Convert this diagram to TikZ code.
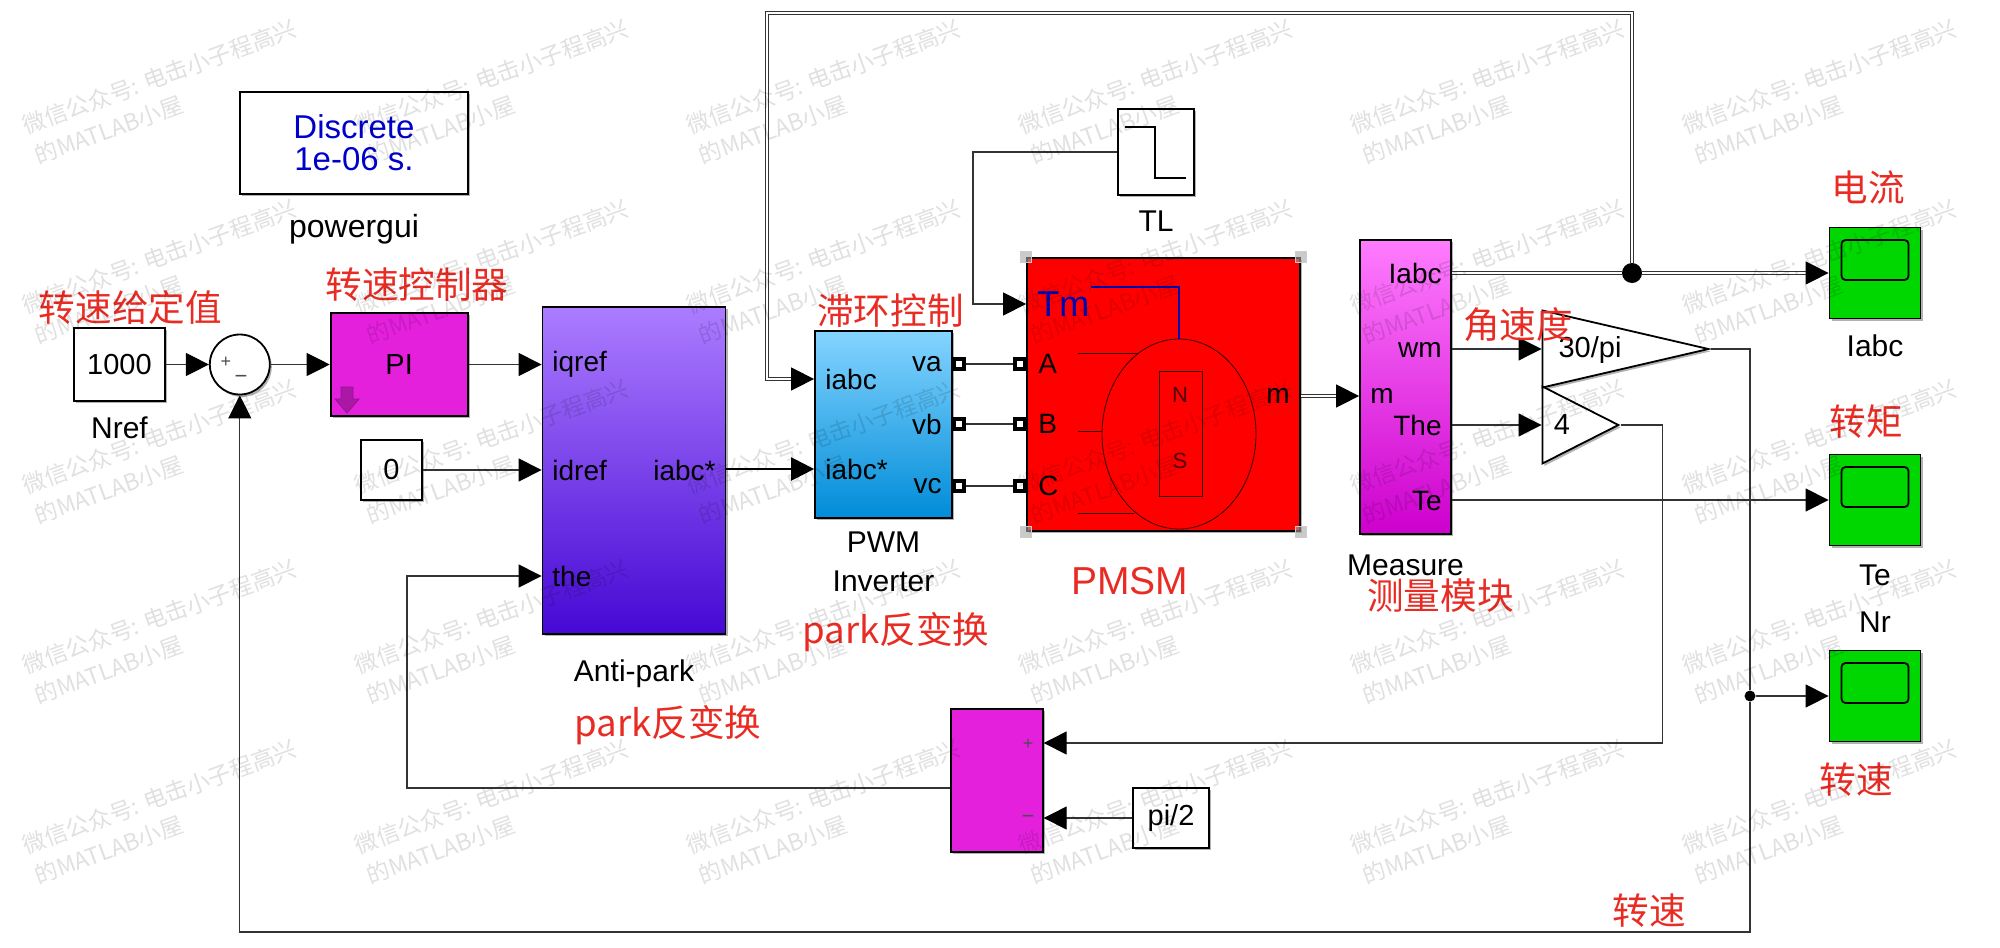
\documentclass[tikz,border=0pt]{standalone}
\usepackage{fontspec}
\setmainfont{Liberation Sans}
\newfontfamily\cjkfont{Noto Sans CJK SC}
\usetikzlibrary{shapes.geometric, arrows.meta, positioning, shadows}

\definecolor{blockred}{RGB}{255,0,0}
\definecolor{blockmag}{RGB}{228,32,220}
\definecolor{scopegreen}{RGB}{0,214,0}
\definecolor{notered}{RGB}{232,44,36}

\begin{document}
\begin{tikzpicture}[
    x=0.5pt, y=-0.5pt,
    tip/.tip       = {Triangle[length=11.5pt, width=11.5pt, color=black, fill=black]},
    block/.style   = {draw=black, line width=0.9pt, inner sep=0pt, font=\fontsize{14.5}{17}\selectfont,
                      drop shadow={shadow xshift=1pt, shadow yshift=-1.2pt, fill=black, opacity=.3}},
    whitebox/.style= {block, fill=white},
    scopebox/.style= {block, fill=scopegreen, minimum width=45.5pt, minimum height=45.5pt},
    screen/.style  = {draw=black, line width=0.9pt, rounded corners=2pt, minimum width=33.5pt, minimum height=20pt, inner sep=0pt},
    gain/.style    = {block, fill=white, isosceles triangle, isosceles triangle stretches,
                      shape border rotate=0, anchor=lower side},
    portlbl/.style = {inner sep=0pt, font=\fontsize{14}{17}\selectfont},
    lbl/.style     = {inner sep=0pt, align=center, font=\fontsize{15}{19.5}\selectfont},
    signlbl/.style = {inner sep=0pt, text=black!70, font=\fontsize{9}{10}\selectfont},
    port/.style    = {draw=black, fill=white, line width=2.2pt, minimum size=5pt, inner sep=0pt},
    handle/.style  = {draw=black!20, fill=black!35, fill opacity=.6, minimum size=5.5pt, inner sep=0pt},
    note/.style    = {inner sep=0pt, text=notered, font=\cjkfont\fontsize{18.3}{22}\selectfont},
    wire/.style    = {black!80, line width=0.55pt},
    arrow/.style   = {wire, -tip},
    bus/.style     = {black!80, line width=0.7pt, double, double distance=0.7pt},
    busarrow/.style= {bus, -tip},
    dot/.style     = {circle, fill=black, inner sep=0pt},
    stamp/.style   = {inner sep=0pt, anchor=south west, rotate=20, text=black, text opacity=.12,
                      font=\cjkfont\fontsize{11.5}{13}\selectfont}
  ]
  \useasboundingbox (0,0) rectangle (2000,947);

  % Solver
  \node[whitebox, minimum width=114pt, minimum height=51pt, align=center,
        text=blue!80!black, font=\fontsize{16.5}{16}\selectfont] (gui) at (354,143) {Discrete\\1e-06 s.};
  \node[lbl, font=\fontsize{16}{19}\selectfont, below=9.5pt of gui] (guilbl) {powergui};

  % Speed loop
  \node[whitebox, minimum width=45.5pt, minimum height=36.5pt] (nref) at (119.5,364.5) {1000};
  \node[lbl, below=7pt of nref] (nreflbl) {Nref};
  \node[whitebox, circle, minimum size=30pt, right=21.5pt of nref] (sum) {};
  \node[signlbl] (sumplus) at (226,362) {+};
  \node[signlbl, font=\fontsize{11}{12}\selectfont] (summinus) at (241,379) {−};
  \node[block, fill=blockmag, minimum width=68.5pt, minimum height=51.5pt, right=29.5pt of sum] (pi) {PI};
  \node[whitebox, minimum width=30.5pt, minimum height=30pt] (zero) at (391.5,470) {0};

  % Anti-park
  \node[block, minimum width=91.5pt, minimum height=163.5pt,
        top color={rgb,255:red,172;green,124;blue,255}, bottom color={rgb,255:red,70;green,8;blue,212}] (anti) at (634,470.5) {};
  \node[lbl, below=12pt of anti] (antilbl) {Anti-park};
  \node[portlbl, anchor=west] (iqref) at (552,364) {iqref};
  \node[portlbl, anchor=west] (idref) at (552,470) {idref};
  \node[portlbl, anchor=west] (the) at (552,576) {the};
  \node[portlbl, anchor=east] (iabcout) at (716,470) {iabc*};

  % Inverter
  \node[block, minimum width=68.5pt, minimum height=93.5pt,
        top color={rgb,255:red,132;green,212;blue,255}, bottom color={rgb,255:red,0;green,140;blue,216}] (pwm) at (883.5,424.5) {};
  \node[lbl, below=6.5pt of pwm] (pwmlbl) {PWM\\Inverter};
  \node[portlbl, anchor=west] (iabc) at (825,379) {iabc};
  \node[portlbl, anchor=west] (iabcs) at (825,469) {iabc*};
  \node[portlbl, anchor=east] (va) at (942,364) {va};
  \node[portlbl, anchor=east] (vb) at (942,424) {vb};
  \node[portlbl, anchor=east] (vc) at (942,486) {vc};
  \node[port] (pva) at (959,364) {};
  \node[port] (pvb) at (959,424) {};
  \node[port] (pvc) at (959,486) {};

  % Motor
  \node[block, fill=blockred, minimum width=136.5pt, minimum height=136.5pt] (pmsm) at (1163.5,394.5) {};
  \foreach \c [count=\i] in {north west, north east, south west, south east}
    \node[handle] (hdl\i) at (pmsm.\c) {};
  \node[draw=black!80!red, line width=0.4pt, ellipse, minimum width=77pt, minimum height=95pt, inner sep=0pt] (rotor) at (1179,434) {};
  \node[draw=black!80!red, line width=0.4pt, minimum width=21.5pt, minimum height=62.5pt, inner sep=0pt] (magnet) at (1180.5,433.5) {};
  \node[portlbl, text=black!70!red, font=\fontsize{11}{13}\selectfont] (north) at (1180,395) {N};
  \node[portlbl, text=black!70!red, font=\fontsize{11}{13}\selectfont] (south) at (1180,461) {S};
  \coordinate (wa) at (1078,353);
  \coordinate (wb) at (1078,431);
  \coordinate (wc) at (1078,513);
  \draw[black!80!red, line width=0.4pt] (wa) -- +(60,0);
  \draw[black!80!red, line width=0.4pt] (wb) -- (rotor.west |- wb);
  \draw[black!80!red, line width=0.4pt] (wc) -- +(56,0);
  \node[portlbl, text=blue!70!black, font=\fontsize{18}{20}\selectfont, anchor=west] (tm) at (1037,304) {Tm};
  \coordinate (bar) at (1091,287);
  \draw[blue!70!black, line width=1.1pt] (bar) -| (rotor.north);
  \node[portlbl, anchor=west] (pha) at (1038,364) {A};
  \node[portlbl, anchor=west] (phb) at (1038,424) {B};
  \node[portlbl, anchor=west] (phc) at (1038,486) {C};
  \node[portlbl, anchor=east] (mout) at (1290,396) {m};
  \node[port] (pa) at (1020,364) {};
  \node[port] (pb) at (1020,424) {};
  \node[port] (pc) at (1020,486) {};

  % Load
  \node[whitebox, minimum width=38pt, minimum height=43pt] (tl) at (1156,152) {};
  \draw[black, line width=0.6pt] (1125,127) -- (1155,127) -- (1155,178) -- (1186,178);
  \node[lbl, below=7.5pt of tl] (tllbl) {TL};

  % Measure
  \node[block, minimum width=45.5pt, minimum height=147pt,
        top color={rgb,255:red,255;green,124;blue,255}, bottom color={rgb,255:red,205;green,0;blue,205}] (meas) at (1405.5,387) {};
  \node[lbl, below=10pt of meas] (measlbl) {Measure};
  \node[portlbl, anchor=east] (iabcm) at (1442,273) {Iabc};
  \node[portlbl, anchor=east] (wm) at (1442,350) {wm};
  \node[portlbl, anchor=west] (mm) at (1370,396) {m};
  \node[portlbl, anchor=east] (thm) at (1442,425) {The};
  \node[portlbl, anchor=east] (tem) at (1442,501) {Te};

  % Gains
  \node[gain, minimum width=38.5pt, minimum height=83pt] (g30) at (1541.5,349) {};
  \node[portlbl, font=\fontsize{14.5}{17}\selectfont] (g30lbl) at (1590,350) {30/pi};
  \node[gain, minimum width=38.5pt, minimum height=38pt] (g4) at (1541.5,425) {};
  \node[portlbl, font=\fontsize{14.5}{17}\selectfont] (g4lbl) at (1562,425) {4};

  % Scopes
  \node[scopebox] (sci) at (1875,273) {};
  \node[screen] (scrI) at (1875,260) {};
  \node[lbl, below=7.5pt of sci] (scilbl) {Iabc};
  \node[scopebox] (sct) at (1875,500) {};
  \node[screen] (scrT) at (1875,487) {};
  \node[lbl, below=9pt of sct] (sctlbl) {Te};
  \node[scopebox] (scn) at (1875,696) {};
  \node[screen] (scrN) at (1875,683) {};
  \node[lbl, above=8.5pt of scn] (scnlbl) {Nr};

  % Angle offset
  \node[block, fill=blockmag, minimum width=45.75pt, minimum height=71.5pt] (dsum) at (997,780.5) {};
  \node[signlbl] (dplus) at (1028,744) {+};
  \node[signlbl, font=\fontsize{11}{12}\selectfont] (dminus) at (1028,819) {−};
  \node[whitebox, minimum width=38pt, minimum height=30pt] (pi2) at (1171,818) {pi/2};

  % Arrows
  \draw[arrow] (nref) -- (sum);
  \draw[arrow] (sum) -- (pi);
  \draw[arrow] (pi) -- (anti.west |- pi);
  \draw[arrow] (zero) -- (anti.west |- zero);
  \draw[-tip, black, line width=1.2pt] (anti.east |- iabcs) -- (pwm.west |- iabcs);
  \draw[wire] (pva) -- (pa);
  \draw[wire] (pvb) -- (pb);
  \draw[wire] (pvc) -- (pc);
  \coordinate (tlbend) at (973,152);
  \draw[arrow] (tl.west) -- (tlbend) |- (pmsm.west |- tm);
  \draw[busarrow] (pmsm.east |- mm) -- (meas.west |- mm);

  % Feedback of currents
  \node[dot, minimum size=10pt] (jct) at (1632,273) {};
  \coordinate (topr) at (1632,13);
  \coordinate (topl) at (767,13);
  \draw[bus] (meas.east |- jct) -- (jct);
  \draw[busarrow] (jct) -- (sci.west);
  \draw[busarrow] (jct) -- (topr) -- (topl) |- (pwm.west |- iabc);

  \draw[arrow] (meas.east |- g30) -- (g30.lower side);
  \draw[arrow] (meas.east |- g4) -- (g4.lower side);
  \draw[arrow] (meas.east |- sct) -- (sct.west);

  % Speed feedback
  \node[dot, minimum size=5.5pt] (jcn) at (1750,696) {};
  \coordinate (spdr) at (1750,932);
  \draw[wire] (g30.apex) -| (jcn);
  \draw[arrow] (jcn) -- (scn.west);
  \draw[arrow] (jcn) -- (spdr) -| (sum.south);

  % Angle feedback
  \coordinate (angr) at (1662.5,743);
  \coordinate (angl) at (407,788);
  \draw[wire] (g4.apex) -| (angr);
  \draw[arrow] (angr) -- (dsum.east |- angr);
  \draw[arrow] (pi2) -- (dsum.east |- pi2);
  \draw[arrow] (dsum.west |- angl) -- (angl) |- (anti.west |- the);

  % Pull-down mark
  \draw[fill=blockmag!75!black, draw=black!35!blockmag, line width=0.4pt]
    (341,387) -- (353,387) -- (353,399) -- (359,399) -- (347,413) -- (335,399) -- (341,399) -- cycle;

  % Notes
  \node[note] (n1) at (130.5,308) {转速给定值};
  \node[note] (n2) at (417,285) {转速控制器};
  \node[note] (n3) at (890.5,311) {滞环控制};
  \node[note] (n4) at (896,632) {park反变换};
  \node[note] (n5) at (668,725) {park反变换};
  \node[note, font=\fontsize{19.5}{22}\selectfont] (n6) at (1129.5,581) {PMSM};
  \node[note] (n7) at (1518,325) {角速度};
  \node[note] (n8) at (1440.5,596) {测量模块};
  \node[note] (n9) at (1868,188) {电流};
  \node[note] (n10) at (1866.5,422) {转矩};
  \node[note] (n11) at (1856,780) {转速};
  \node[note] (n12) at (1649,911) {转速};

  % Watermark
  \foreach \sx in {27,359,691,1023,1355,1687}
    \foreach \sy in {-43,137,317,497,677,857} {
      \node[stamp] (wma\sx\sy) at (\sx,\sy) {微信公众号: 电击小子程高兴};
      \node[stamp] (wmb\sx\sy) at (\sx+12,\sy+30) {的MATLAB小屋};
    }
\end{tikzpicture}
\end{document}
